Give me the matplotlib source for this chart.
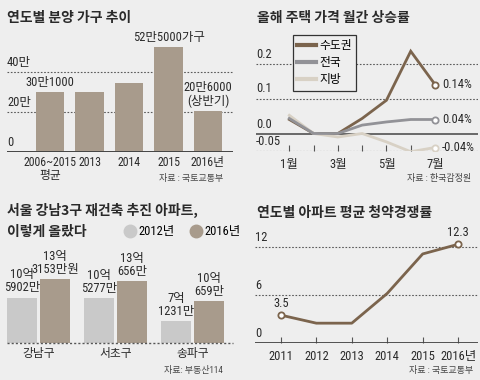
import matplotlib
matplotlib.use("Agg")
import matplotlib.pyplot as plt
import matplotlib.transforms as mtransforms
from matplotlib.lines import Line2D

plt.rcParams['font.family'] = ['Roboto Condensed', 'Noto Sans CJK KR', 'DejaVu Sans']

# --- data -------------------------------------------------------------
# panel 1: 연도별 분양 가구 (만 가구)
supply_labels = ['2006~2015\n평균', '2013', '2014', '2015', '2016년']
supply_values = [30.1, 29.9, 34.6, 52.5, 20.6]
supply_notes = ['30만1000', '', '', '52만5000가구', '20만6000\n(상반기)']

# panel 2: 월간 상승률 (%)
months = [1, 2, 3, 4, 5, 6, 7]
month_labels = ['1월', '', '3월', '', '5월', '', '7월']
metro = [0.04, 0.0, 0.0, 0.043, 0.095, 0.235, 0.14]
nation = [0.043, 0.0, 0.0, 0.024, 0.033, 0.04, 0.04]
local = [0.052, 0.0, -0.01, 0.0, -0.024, -0.052, -0.04]
end_labels = ['0.14%', '0.04%', '-0.04%']

# panel 3: 강남3구 재건축 아파트 (억원)
districts = ['강남구', '서초구', '송파구']
price_2012 = [10.5902, 10.5277, 7.1231]
price_2016 = [13.3153, 13.0656, 10.0659]
label_2012 = ['10억\n5902만', '10억\n5277만', '7억\n1231만']
label_2016 = ['13억\n3153만원', '13억\n656만', '10억\n659만']

# panel 4: 평균 청약경쟁률
years = [2011, 2012, 2013, 2014, 2015, 2016]
year_labels = ['2011', '2012', '2013', '2014', '2015', '2016년']
competition = [3.5, 2.5, 2.5, 6.2, 11.1, 12.3]

# --- style ------------------------------------------------------------
BG = '#eeeeee'
INK = '#2a2a2a'
TAUPE = '#a89b8c'
BROWN = '#7b644d'
GRAY_LINE = '#929297'
LIGHT_LINE = '#d8d1c5'
GRAY_BAR = '#c9c9c9'
GRID = '#5a5a5a'
DOT = (0, (1.5, 1.5))
FS = 9
W, H = 480, 380

fig = plt.figure(figsize=(W / 100, H / 100), dpi=100, facecolor=BG)


def px_axes(left, top, right, bottom):
    ax = fig.add_axes([left / W, 1 - bottom / H, (right - left) / W, (bottom - top) / H])
    ax.set_facecolor('none')
    for s in ax.spines.values():
        s.set_visible(False)
    ax.set_yticks([])
    return ax


def ftext(x, y, s, **kw):
    kw.setdefault('color', INK)
    return fig.text(x / W, 1 - y / H, s, **kw)


def ylabel_in(ax, v, s):
    tr = mtransforms.blended_transform_factory(ax.transAxes, ax.transData)
    off = mtransforms.offset_copy(tr, fig=fig, x=0, y=3, units='dots')
    ax.text(0.0, v, s, transform=off, ha='left', va='bottom', fontsize=FS, color=INK)


title_kw = dict(fontsize=10, fontweight='bold', family=['Noto Sans CJK KR'], va='center')
src_kw = dict(fontsize=6.5, ha='right', va='center', color='#444444')

# --- panel 1 ------------------------------------------------------------
ftext(7, 18, '연도별 분양 가구 추이', **title_kw)
ax1 = px_axes(7, 30, 233, 151.7)
ax1.set_xlim(-1.089, 4.633)
ax1.set_ylim(0, (151.7 - 30) / 1.99)
xs = list(range(len(supply_values)))
ax1.bar(xs, supply_values, width=0.72, color=TAUPE, zorder=2)
for v in (20, 40):
    ax1.axhline(v, color=GRID, lw=0.8, ls=DOT, zorder=1)
ax1.axhline(0, color='#444444', lw=1.4, zorder=3)
for v, s in [(40, '40만'), (20, '20만'), (0, '0')]:
    ylabel_in(ax1, v, s)
for i, (v, note) in enumerate(zip(supply_values, supply_notes)):
    if note:
        ax1.annotate(note, (i, v), xytext=(0, 2), textcoords='offset points',
                     ha='center', va='bottom', fontsize=FS, color=INK, linespacing=1.05)
ax1.set_xticks(xs, supply_labels)
ax1.tick_params(axis='x', length=0, pad=3, labelsize=8.5, labelcolor=INK)
for t in ax1.get_xticklabels():
    t.set_linespacing(1.0)
ftext(223, 178, '자료 : 국토교통부', **src_kw)

# --- panel 2 ------------------------------------------------------------
ftext(257, 18, '올해 주택 가격 월간 상승률', **title_kw)
ax2 = px_axes(256, 30, 478, 151)
ax2.set_xlim(-0.372, 8.77)
ax2.set_ylim(-0.05, -0.05 + (151 - 30) / 350)
for v in (0.2, 0.1, -0.05):
    ax2.axhline(v, color=GRID, lw=0.8, ls=DOT, zorder=1)
ax2.axhline(0, color='#444444', lw=1.1, zorder=1)
for v, s in [(0.2, '0.2'), (0.1, '0.1'), (0.0, '0.0'), (-0.05, '-0.05')]:
    ylabel_in(ax2, v, s)
series = [(metro, BROWN, 2), (local, LIGHT_LINE, 3), (nation, GRAY_LINE, 4)]
for vals, col, z in series:
    ax2.plot(months, vals, color=col, lw=2.0, zorder=z, solid_joinstyle='miter')
    ax2.plot(months[-1], vals[-1], 'o', ms=4.5, mfc='white', mec=col, mew=1.3, zorder=z + 5)
for vals, s in zip([metro, nation, local], end_labels):
    ax2.annotate(s, (months[-1], vals[-1]), xytext=(5, 0), textcoords='offset points',
                 ha='left', va='center', fontsize=FS, color=INK)
ax2.set_xticks(months, month_labels)
ax2.tick_params(axis='x', direction='in', length=4.5, width=0.8, color='#555555',
                pad=5, labelsize=FS, labelcolor=INK)
handles = [Line2D([], [], color=c, lw=3) for c in (BROWN, GRAY_LINE, LIGHT_LINE)]
leg = ax2.legend(handles, ['수도권', '전국', '지방'], loc='upper left',
                 bbox_to_anchor=(293 / W, 1 - 35 / H), bbox_transform=fig.transFigure,
                 borderaxespad=0, fancybox=False, framealpha=1, facecolor=BG,
                 edgecolor='#333333', handlelength=1.6, handletextpad=0.3,
                 labelspacing=0.35, borderpad=0.35,
                 prop={'family': ['Noto Sans CJK KR'], 'size': 8.5})
leg.get_frame().set_linewidth(0.9)
ftext(471, 178, '자료 : 한국감정원', **src_kw)

# --- panel 3 ------------------------------------------------------------
ftext(7, 210, '서울 강남3구 재건축 추진 아파트,', **title_kw)
ftext(7, 232, '이렇게 올랐다', **title_kw)
ax3 = px_axes(7, 250, 233, 343.3)
ax3.set_xlim(-0.414, 2.527)
y0 = 3.84
ax3.set_ylim(y0, y0 + (343.3 - 250) / 6.75)
gx = list(range(len(districts)))
b1 = ax3.bar([g - 0.215 for g in gx], price_2012, width=0.39, color=GRAY_BAR, zorder=2)
b2 = ax3.bar([g + 0.215 for g in gx], price_2016, width=0.39, color=TAUPE, zorder=2)
ax3.axhline(y0, color='#555555', lw=1.0, ls=DOT, zorder=3, clip_on=False)
for bars, labels in [(b1, label_2012), (b2, label_2016)]:
    for rect, s in zip(bars, labels):
        ax3.annotate(s, (rect.get_x() + rect.get_width() / 2, rect.get_height()),
                     xytext=(0, 2.5), textcoords='offset points', ha='center', va='bottom',
                     fontsize=FS, color=INK, linespacing=1.0, annotation_clip=False)
ax3.set_xticks(gx, districts)
ax3.tick_params(axis='x', length=0, pad=3, labelsize=8.5, labelcolor=INK)
lh = [Line2D([], [], marker='o', ls='', ms=9, color=c) for c in (GRAY_BAR, TAUPE)]
ax3.legend(lh, ['2012년', '2016년'], loc='center left', ncol=2,
           bbox_to_anchor=(124 / W, 1 - 232 / H), bbox_transform=fig.transFigure,
           borderaxespad=0, borderpad=0, frameon=False, handlelength=1.0,
           handletextpad=0.15, columnspacing=1.2, fontsize=FS)
ftext(223, 370, '자료: 부동산114', **src_kw)

# --- panel 4 ------------------------------------------------------------
ftext(257, 213, '연도별 아파트 평균 청약경쟁률', **title_kw)
ax4 = px_axes(255, 225, 478, 343.3)
ax4.set_xlim(2010.27, 2016.56)
ax4.set_ylim(0, (343.3 - 225) / 8.05)
for v in (6, 12):
    ax4.axhline(v, color=GRID, lw=0.8, ls=DOT, zorder=1)
ax4.axhline(0, color='#444444', lw=1.3, zorder=3)
for v, s in [(12, '12'), (6, '6'), (0, '0')]:
    ylabel_in(ax4, v, s)
ax4.plot(years, competition, color=BROWN, lw=2.0, zorder=4)
ax4.plot([years[0], years[-1]], [competition[0], competition[-1]], 'o', ms=4.5,
         mfc='white', mec=BROWN, mew=1.3, zorder=5)
for i in (0, -1):
    ax4.annotate(f'{competition[i]}', (years[i], competition[i]), xytext=(0, 4),
                 textcoords='offset points', ha='center', va='bottom', fontsize=FS, color=INK)
ax4.set_xticks(years, year_labels)
ax4.tick_params(axis='x', direction='in', length=4.5, width=0.8, color='#555555',
                pad=5, labelsize=FS, labelcolor=INK)
ftext(473, 371, '자료 : 국토교통부', **src_kw)

fig.savefig('out.png', dpi=100, facecolor=BG)
